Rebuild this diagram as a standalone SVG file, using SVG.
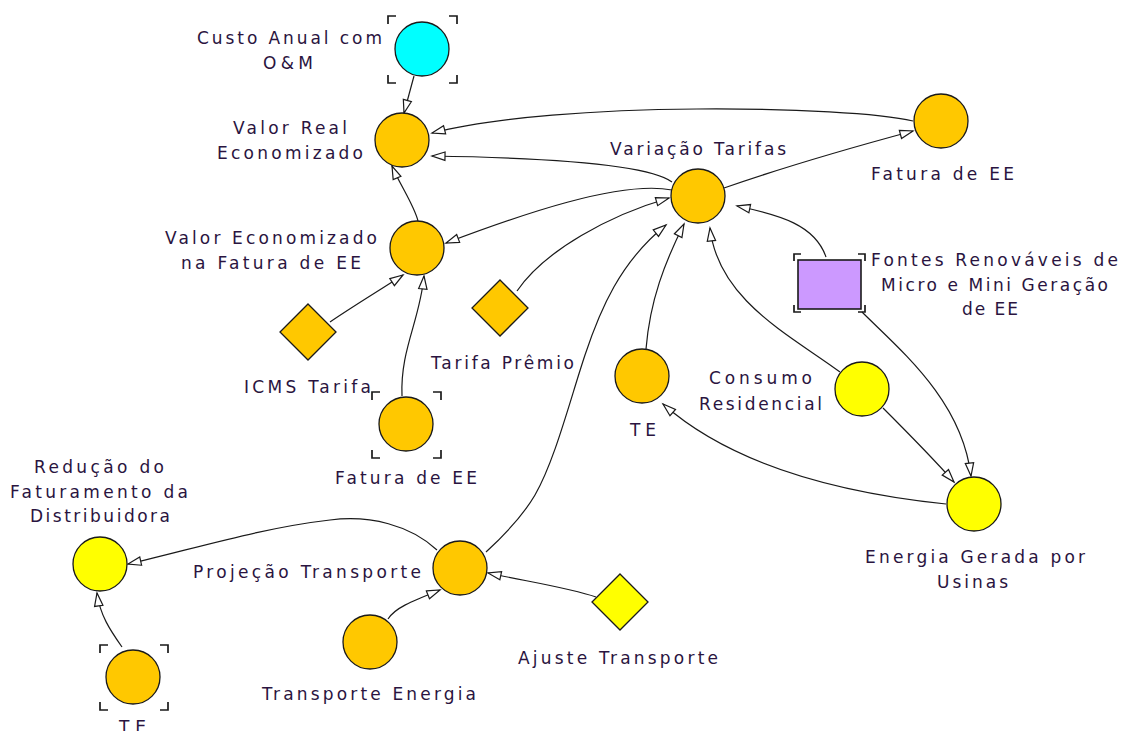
<svg xmlns="http://www.w3.org/2000/svg" width="1122" height="731" viewBox="0 0 1122 731">
<style>
.o{fill:#FFC800;stroke:#1a1a1a;stroke-width:1.3}
.y{fill:#FFFF00;stroke:#1a1a1a;stroke-width:1.3}
.c{fill:#00FFFF;stroke:#1a1a1a;stroke-width:1.3}
.p{fill:#CC99FF;stroke:#1a1a1a;stroke-width:1.6}
.b{fill:none;stroke:#1a1a1a;stroke-width:1.7}
.l{fill:none;stroke:#1a1a1a;stroke-width:1.2;marker-end:url(#a)}
text{font-family:"DejaVu Sans",Verdana,sans-serif;font-size:17px;fill:#2a1440}
</style>
<defs>
<marker id="a" viewBox="0 0 14 10" refX="13.5" refY="5" markerWidth="14" markerHeight="10" orient="auto" markerUnits="userSpaceOnUse" overflow="visible">
<path d="M0.5,0.8 L13.5,5 L0.5,9.2 Z" fill="#fff" stroke="#1a1a1a" stroke-width="1.2"/>
</marker>
</defs>
<rect width="1122" height="731" fill="#fff"/>
<g id="connectors">
<path class="l" d="M414,76 L404,113"/>
<path class="l" d="M913,121 C850,106 560,100 432,133"/>
<path class="l" d="M672,182 C650,165 560,158 432,156"/>
<path class="l" d="M418,221 C414,205 400,185 392,166"/>
<path class="l" d="M672,190 C620,180 520,215 446,243"/>
<path class="l" d="M330,322 C355,305 380,290 403,275"/>
<path class="l" d="M402,396 C400,350 420,320 424,276"/>
<path class="l" d="M517,291 C545,250 610,215 669,198"/>
<path class="l" d="M486,552 C510,530 525,512 535,495 C555,460 570,400 585,355 C600,310 620,262 666,225"/>
<path class="l" d="M646,349 C650,300 665,262 684,224"/>
<path class="l" d="M840,372 C790,335 718,300 710,228"/>
<path class="l" d="M826,257 C815,225 780,215 737,206"/>
<path class="l" d="M724,188 C790,165 850,148 913,131"/>
<path class="l" d="M862,312 C900,350 962,400 971,476"/>
<path class="l" d="M883,408 C905,430 930,455 954,482"/>
<path class="l" d="M946,504 C860,495 740,472 663,404"/>
<path class="l" d="M437,550 C410,525 370,515 330,520 C260,528 190,550 128,564"/>
<path class="l" d="M122,647 C110,630 100,615 97,593"/>
<path class="l" d="M388,619 C395,608 410,602 440,590"/>
<path class="l" d="M596,597 C570,588 530,582 488,573"/>
</g>
<g id="custo-anual">
<path class="b" d="M388,24 V16 H396 M449,16 H457 V24 M388,75 V83 H396 M449,83 H457 V75"/>
<circle class="c" cx="422" cy="49" r="27"/>
<text x="197" y="44" textLength="185" lengthAdjust="spacing">Custo Anual com</text>
<text x="263" y="69" textLength="50" lengthAdjust="spacing">O&amp;M</text>
</g>
<g id="valor-real">
<circle class="o" cx="402" cy="140" r="27"/>
<text x="233" y="134" textLength="114" lengthAdjust="spacing">Valor Real</text>
<text x="217" y="159" textLength="146" lengthAdjust="spacing">Economizado</text>
</g>
<g id="variacao-tarifas">
<circle class="o" cx="698" cy="196" r="27"/>
<text x="610" y="155" textLength="176" lengthAdjust="spacing">Variação Tarifas</text>
</g>
<g id="fatura-top">
<circle class="o" cx="941" cy="121" r="27"/>
<text x="871" y="180" textLength="143" lengthAdjust="spacing">Fatura de EE</text>
</g>
<g id="valor-economizado">
<circle class="o" cx="417" cy="248" r="27"/>
<text x="165" y="244" textLength="212" lengthAdjust="spacing">Valor Economizado</text>
<text x="181" y="269" textLength="180" lengthAdjust="spacing">na Fatura de EE</text>
</g>
<g id="icms-tarifa">
<path class="o" d="M308,304 L336,332 L308,360 L280,332 Z"/>
<text x="244" y="393" textLength="127" lengthAdjust="spacing">ICMS Tarifa</text>
</g>
<g id="tarifa-premio">
<path class="o" d="M500,280 L528,308 L500,336 L472,308 Z"/>
<text x="431" y="369" textLength="143" lengthAdjust="spacing">Tarifa Prêmio</text>
</g>
<g id="fatura-mid">
<path class="b" d="M372,400 V392 H380 M433,392 H441 V400 M372,450 V458 H380 M433,458 H441 V450"/>
<circle class="o" cx="406" cy="424" r="27"/>
<text x="335" y="484" textLength="142" lengthAdjust="spacing">Fatura de EE</text>
</g>
<g id="fontes-renovaveis">
<path class="b" d="M794,261 V254 H801 M858,254 H865 V261 M794,305 V312 H801 M858,312 H865 V305"/>
<rect class="p" x="798" y="260" width="63" height="49"/>
<text x="871" y="266" textLength="247" lengthAdjust="spacing">Fontes Renováveis de</text>
<text x="881" y="291" textLength="227" lengthAdjust="spacing">Micro e Mini Geração</text>
<text x="962" y="315" textLength="56" lengthAdjust="spacing">de EE</text>
</g>
<g id="te-mid">
<circle class="o" cx="642" cy="376" r="27"/>
<text x="630" y="436" textLength="26" lengthAdjust="spacing">TE</text>
</g>
<g id="consumo-residencial">
<circle class="y" cx="862" cy="389" r="27"/>
<text x="709" y="384" textLength="103" lengthAdjust="spacing">Consumo</text>
<text x="699" y="410" textLength="123" lengthAdjust="spacing">Residencial</text>
</g>
<g id="energia-gerada">
<circle class="y" cx="974" cy="504" r="27"/>
<text x="865" y="563" textLength="220" lengthAdjust="spacing">Energia Gerada por</text>
<text x="937" y="588" textLength="71" lengthAdjust="spacing">Usinas</text>
</g>
<g id="reducao-faturamento">
<circle class="y" cx="100" cy="564" r="27"/>
<text x="34" y="473" textLength="130" lengthAdjust="spacing">Redução do</text>
<text x="10" y="498" textLength="178" lengthAdjust="spacing">Faturamento da</text>
<text x="30" y="522" textLength="140" lengthAdjust="spacing">Distribuidora</text>
</g>
<g id="te-bottom">
<path class="b" d="M100,653 V645 H108 M160,645 H168 V653 M100,702 V710 H108 M160,710 H168 V702"/>
<circle class="o" cx="133" cy="677" r="27"/>
<text x="119" y="733" textLength="27" lengthAdjust="spacing">TE</text>
</g>
<g id="projecao-transporte">
<circle class="o" cx="460" cy="568" r="27"/>
<text x="193" y="578" textLength="228" lengthAdjust="spacing">Projeção Transporte</text>
</g>
<g id="transporte-energia">
<circle class="o" cx="370" cy="642" r="27"/>
<text x="262" y="700" textLength="214" lengthAdjust="spacing">Transporte Energia</text>
</g>
<g id="ajuste-transporte">
<path class="y" d="M620,574 L648,602 L620,630 L592,602 Z"/>
<text x="518" y="664" textLength="200" lengthAdjust="spacing">Ajuste Transporte</text>
</g>
</svg>
